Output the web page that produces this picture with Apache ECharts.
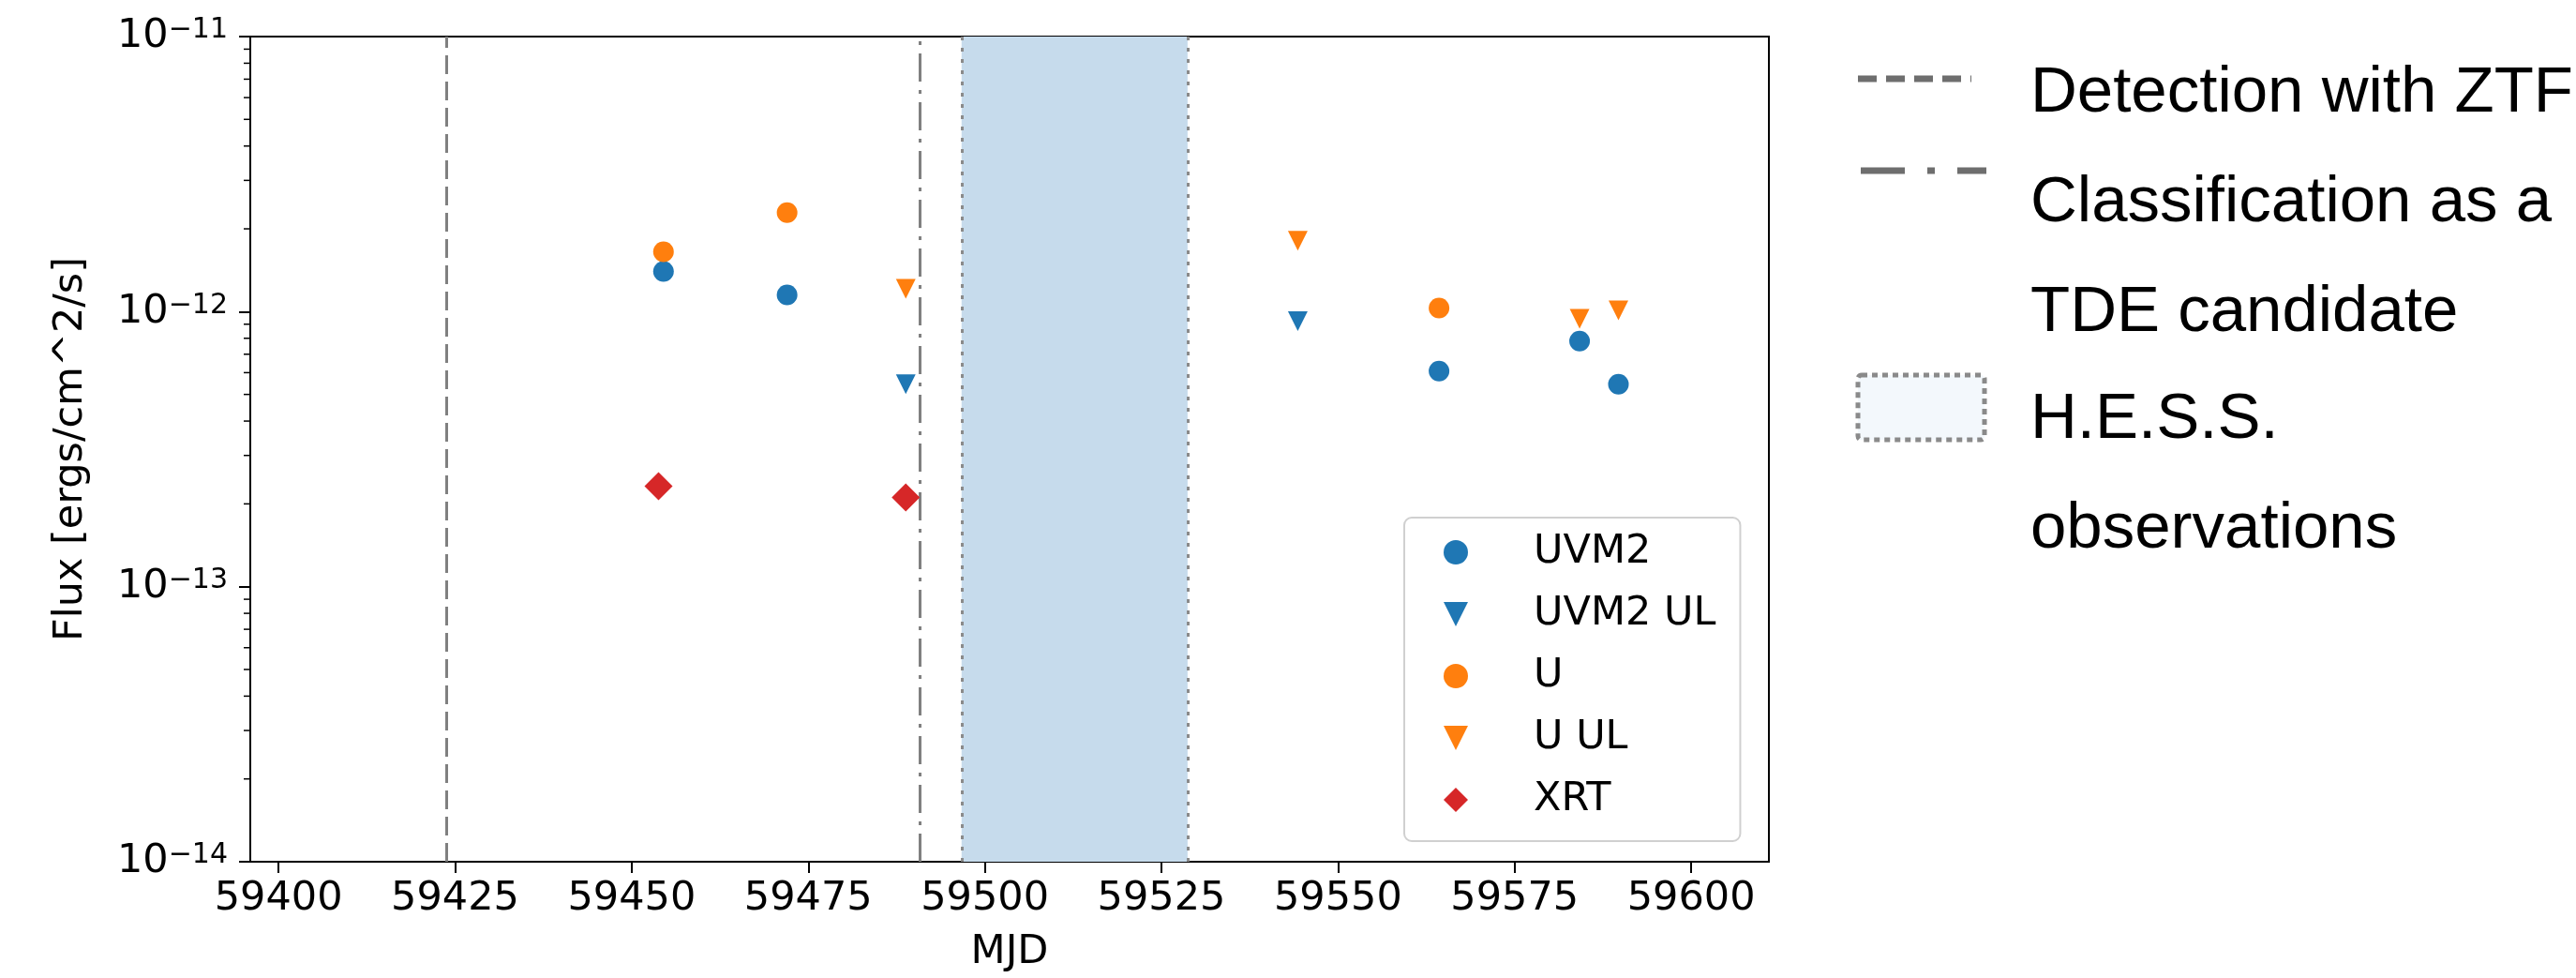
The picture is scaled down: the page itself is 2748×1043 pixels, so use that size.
<!DOCTYPE html>
<html>
<head>
<meta charset="utf-8">
<title>Swift light curve</title>
<script src="https://cdn.jsdelivr.net/npm/echarts@6/dist/echarts.min.js"></script>
<style>
html, body { margin: 0; padding: 0; background: #fff; }
#chart { width: 2748px; height: 1043px; }
</style>
</head>
<body>
<div id="chart"></div>
<script>
var uvm2Mjd = [59454.5, 59472.0, 59564.3, 59584.2, 59589.7];
var uvm2Flux = [1.40e-12, 1.15e-12, 6.08e-13, 7.82e-13, 5.45e-13];
var uvm2UlMjd = [59488.8, 59544.3];
var uvm2UlFlux = [5.45e-13, 9.23e-13];
var uMjd = [59454.5, 59472.0, 59564.3];
var uFlux = [1.65e-12, 2.29e-12, 1.03e-12];
var uUlMjd = [59488.8, 59544.3, 59584.2, 59589.7];
var uUlFlux = [1.21e-12, 1.81e-12, 9.42e-13, 1.01e-12];
var xrtMjd = [59453.8, 59488.8];
var xrtFlux = [2.32e-13, 2.11e-13];

// events
var ztfDetection = 59423.8;
var tdeClassification = 59490.8;
var hessWindow = [59496.7, 59528.7];

// axes
var mjdRange = [59396, 59611];
var fluxRange = [1e-14, 1e-11];
var mjdTicks = [59400, 59425, 59450, 59475, 59500, 59525, 59550, 59575, 59600];
var fluxMinorTicks = [
  2e-14, 3e-14, 4e-14, 5e-14, 6e-14, 7e-14, 8e-14, 9e-14,
  2e-13, 3e-13, 4e-13, 5e-13, 6e-13, 7e-13, 8e-13, 9e-13,
  2e-12, 3e-12, 4e-12, 5e-12, 6e-12, 7e-12, 8e-12, 9e-12
];

var FONT = 'DejaVu Sans';
var LEG_FONT = '69px "Liberation Sans"';
// legend icons (keep aspect inside the 26px box)
var DOWN_TRIANGLE = 'path://M0,0L10,0L5,10Z';
var SQUARE_DIAMOND = 'path://M5,0L10,5L5,10L0,5Z';

function pairs(xs, ys) {
  return xs.map(function (x, i) { return [x, ys[i]]; });
}

function points(name, xs, ys, symbol, size, color, rotate) {
  return {
    name: name,
    type: 'scatter',
    z: 3,
    data: pairs(xs, ys),
    symbol: symbol,
    symbolSize: size,
    symbolRotate: rotate || 0,
    itemStyle: { color: color, opacity: 1 },
    emphasis: { disabled: true },
    silent: true
  };
}

var chart = echarts.init(document.getElementById('chart'));

var option = {
  animation: false,
  backgroundColor: '#fff',
  textStyle: { fontFamily: FONT },
  grid: {
    left: 267, right: 861, top: 39, bottom: 124,
    show: true, borderColor: '#000', borderWidth: 2,
    containLabel: false, outerBoundsMode: 'none'
  },
  xAxis: {
    type: 'value',
    min: mjdRange[0],
    max: mjdRange[1],
    name: 'MJD',
    nameLocation: 'middle',
    nameGap: 75,
    nameTextStyle: { fontSize: 43, color: '#000', fontFamily: FONT },
    axisLine: { show: true, onZero: false, lineStyle: { color: '#000', width: 2 } },
    axisTick: { show: true, length: 12, customValues: mjdTicks, lineStyle: { color: '#000', width: 2 } },
    axisLabel: {
      customValues: mjdTicks, fontSize: 43, color: '#000', margin: 18, fontFamily: FONT,
      formatter: function (v) { return String(Math.round(v)); }
    },
    splitLine: { show: false }
  },
  yAxis: {
    type: 'log',
    logBase: 10,
    min: fluxRange[0],
    max: fluxRange[1],
    name: 'Flux [ergs/cm^2/s]',
    nameLocation: 'middle',
    nameGap: 170,
    nameTextStyle: { fontSize: 43, color: '#000', fontFamily: FONT },
    axisLine: { show: true, onZero: false, lineStyle: { color: '#000', width: 2 } },
    axisTick: { show: true, length: 12, lineStyle: { color: '#000', width: 2 } },
    axisLabel: {
      margin: 24,
      showMinLabel: true,
      showMaxLabel: true,
      formatter: function (v) {
        var e = Math.round(Math.log10(v));
        return '{b|10}{s|\u2212' + Math.abs(e) + '}';
      },
      rich: {
        b: { fontSize: 43, lineHeight: 43, color: '#000', fontFamily: FONT },
        s: { fontSize: 30, lineHeight: 20, verticalAlign: 'top', color: '#000', fontFamily: FONT }
      }
    },
    splitLine: { show: false }
  },
  legend: {
    data: [
      { name: 'UVM2' },
      { name: 'UVM2 UL', icon: DOWN_TRIANGLE },
      { name: 'U' },
      { name: 'U UL', icon: DOWN_TRIANGLE },
      { name: 'XRT', icon: SQUARE_DIAMOND }
    ],
    orient: 'vertical',
    left: 1498,
    top: 552,
    padding: [15, 26, 22, 42],
    itemGap: 22,
    itemWidth: 40,
    itemHeight: 26,
    symbolRotate: 0,
    backgroundColor: 'rgba(255,255,255,0.8)',
    borderColor: '#d0d0d0',
    borderWidth: 2,
    borderRadius: 8,
    selectedMode: false,
    textStyle: { fontSize: 43, lineHeight: 44, color: '#000', fontFamily: FONT, padding: [0, 0, 0, 58] }
  },
  series: [
    { // H.E.S.S. window
      name: 'hess',
      type: 'line',
      data: [],
      z: 1,
      silent: true,
      markArea: {
        silent: true,
        itemStyle: { color: '#c6dbec', opacity: 1 },
        data: [[{ xAxis: hessWindow[0] }, { xAxis: hessWindow[1] }]]
      },
      markLine: {
        silent: true,
        z: 2,
        symbol: ['none', 'none'],
        label: { show: false },
        lineStyle: { color: '#8a8a8a', width: 3, type: [4, 8] },
        data: [{ xAxis: hessWindow[0] }, { xAxis: hessWindow[1] }]
      }
    },
    { // ZTF detection + TDE classification
      name: 'events',
      type: 'line',
      data: [],
      z: 1,
      silent: true,
      markLine: {
        silent: true,
        z: 2,
        symbol: ['none', 'none'],
        label: { show: false },
        lineStyle: { color: '#808080', width: 3 },
        data: [
          { xAxis: ztfDetection, lineStyle: { type: [20, 8] } },
          { xAxis: tdeClassification, lineStyle: { type: [30, 9, 4, 9] } }
        ]
      }
    },
    points('UVM2', uvm2Mjd, uvm2Flux, 'circle', 22, '#1f77b4'),
    points('UVM2 UL', uvm2UlMjd, uvm2UlFlux, 'triangle', [21, 21], '#1f77b4', 180),
    points('U', uMjd, uFlux, 'circle', 22, '#ff7f0e'),
    points('U UL', uUlMjd, uUlFlux, 'triangle', [21, 21], '#ff7f0e', 180),
    points('XRT', xrtMjd, xrtFlux, 'diamond', [30, 30], '#d62728'),
    { // minor ticks of the log axis
      name: 'minor',
      type: 'custom',
      silent: true,
      clip: false,
      data: fluxMinorTicks.map(function (v) { return [mjdRange[0], v]; }),
      encode: { x: 0, y: 1 },
      renderItem: function (params, api) {
        var p = api.coord([api.value(0), api.value(1)]);
        return {
          type: 'line',
          shape: { x1: p[0] - 7, y1: p[1], x2: p[0], y2: p[1] },
          style: { stroke: '#000', lineWidth: 1.5 }
        };
      }
    }
  ],
  graphic: { elements: [
    { type: 'line', silent: true, shape: { x1: 1982, y1: 84, x2: 2103, y2: 84 },
      style: { stroke: '#6e6e6e', lineWidth: 7, lineDash: [20, 10] } },
    { type: 'line', silent: true, shape: { x1: 1985, y1: 182, x2: 2119, y2: 182 },
      style: { stroke: '#6e6e6e', lineWidth: 7, lineDash: [47, 24, 8, 24] } },
    { type: 'rect', silent: true, shape: { x: 1982, y: 400, width: 135, height: 69, r: 4 },
      style: { fill: '#f3f8fc', stroke: '#8a8a8a', lineWidth: 5, lineDash: [6, 5] } },
    { type: 'text', silent: true, x: 2166, y: 100,
      style: { text: 'Detection with ZTF', font: LEG_FONT, fill: '#000', textVerticalAlign: 'middle' } },
    { type: 'text', silent: true, x: 2166, y: 217,
      style: { text: 'Classification as a', font: LEG_FONT, fill: '#000', textVerticalAlign: 'middle' } },
    { type: 'text', silent: true, x: 2166, y: 334,
      style: { text: 'TDE candidate', font: LEG_FONT, fill: '#000', textVerticalAlign: 'middle' } },
    { type: 'text', silent: true, x: 2166, y: 448,
      style: { text: 'H.E.S.S.', font: LEG_FONT, fill: '#000', textVerticalAlign: 'middle' } },
    { type: 'text', silent: true, x: 2166, y: 565,
      style: { text: 'observations', font: LEG_FONT, fill: '#000', textVerticalAlign: 'middle' } }
  ] }
};

chart.setOption(option);
</script>
</body>
</html>
